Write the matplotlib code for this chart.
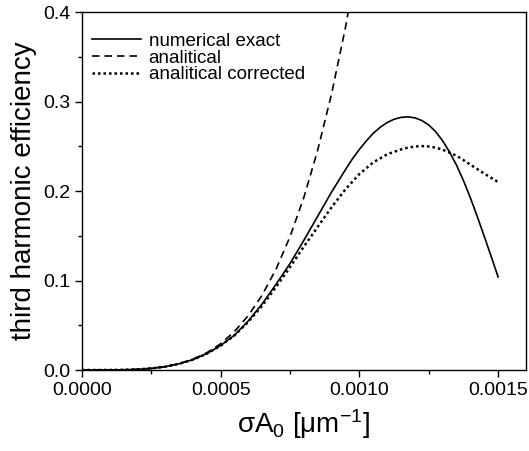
import matplotlib
matplotlib.use('Agg')
import matplotlib.pyplot as plt
from matplotlib.ticker import MultipleLocator, FormatStrFormatter

plt.rcParams['font.family'] = ['Liberation Sans', 'DejaVu Sans']
plt.rcParams['mathtext.fontset'] = 'custom'
plt.rcParams['mathtext.rm'] = 'Liberation Sans'
plt.rcParams['mathtext.it'] = 'Liberation Sans'
plt.rcParams['mathtext.default'] = 'regular'

# sigma*A0 values
x_num = [0.0, 0.00005, 0.0001, 0.00015, 0.0002, 0.00025, 0.0003, 0.00035,
         0.0004, 0.00045, 0.0005, 0.00055, 0.0006, 0.00065, 0.0007, 0.00075,
         0.0008, 0.00085, 0.0009, 0.00095, 0.000975, 0.0010, 0.001025,
         0.00105, 0.001075, 0.0011, 0.001125, 0.00115, 0.001175, 0.0012,
         0.001225, 0.00125, 0.001275, 0.0013, 0.001325, 0.00135, 0.001375,
         0.0014, 0.001425, 0.00145, 0.001475, 0.0015]
numerical = [0.0, 0.0, 0.00005, 0.00024, 0.0007, 0.0018, 0.0037, 0.0069,
             0.0116, 0.0183, 0.0274, 0.039, 0.055, 0.074, 0.096, 0.119,
             0.145, 0.172, 0.199, 0.224, 0.236, 0.2465, 0.256,
             0.2645, 0.2712, 0.2765, 0.2802, 0.2823, 0.2829, 0.2818,
             0.2788, 0.2738, 0.2663, 0.2562, 0.2436, 0.229, 0.2118,
             0.1925, 0.1715, 0.1495, 0.127, 0.104]

x_cor = [0.0, 0.00005, 0.0001, 0.00015, 0.0002, 0.00025, 0.0003, 0.00035,
         0.0004, 0.00045, 0.0005, 0.00055, 0.0006, 0.00065, 0.0007, 0.00075,
         0.0008, 0.00085, 0.0009, 0.00095, 0.0010, 0.00105, 0.0011, 0.00115,
         0.001175, 0.0012, 0.001225, 0.00125, 0.001275, 0.0013, 0.00135,
         0.0014, 0.00145, 0.0015]
corrected = [0.0, 0.0, 0.00005, 0.00024, 0.0007, 0.0018, 0.0037, 0.0069,
             0.0116, 0.0183, 0.0273, 0.0388, 0.054, 0.072, 0.093, 0.115,
             0.138, 0.160, 0.182, 0.202, 0.219, 0.232, 0.241, 0.2465,
             0.2485, 0.2497, 0.2502, 0.2498, 0.2485, 0.2462, 0.2395,
             0.2295, 0.2195, 0.210]

x_anal = [0.0, 0.00005, 0.0001, 0.00015, 0.0002, 0.00025, 0.0003, 0.00035,
          0.0004, 0.00045, 0.0005, 0.00055, 0.0006, 0.00065, 0.0007, 0.00075,
          0.0008, 0.00085, 0.0009, 0.00095, 0.0010]
analytical = [0.0, 0.0, 0.00005, 0.00024, 0.00075, 0.0018, 0.0038, 0.0071,
              0.0121, 0.0193, 0.0294, 0.0431, 0.061, 0.084, 0.113, 0.149,
              0.193, 0.246, 0.309, 0.383, 0.471]

fig = plt.figure(figsize=(5.29, 4.51), dpi=100)
ax = fig.add_axes([0.155, 0.1796, 0.839, 0.7937])

ax.plot(x_num, numerical, color='black', lw=1.2, label='numerical exact')
ax.plot(x_anal, analytical, color='black', lw=1.2, linestyle=(0, (4.5, 3)),
        label='analitical')
ax.plot(x_cor, corrected, color='black', lw=1.8, linestyle=(0, (1, 1.2)),
        label='analitical corrected')

ax.set_xlim(0, 0.0016)
ax.set_ylim(0, 0.4)
ax.xaxis.set_major_locator(MultipleLocator(0.0005))
ax.xaxis.set_minor_locator(MultipleLocator(0.00025))
ax.yaxis.set_major_locator(MultipleLocator(0.1))
ax.yaxis.set_minor_locator(MultipleLocator(0.05))
ax.xaxis.set_major_formatter(FormatStrFormatter('%.4f'))
ax.yaxis.set_major_formatter(FormatStrFormatter('%.1f'))
ax.tick_params(which='both', direction='out', top=False, right=False,
               labelsize=14)
ax.tick_params(which='major', length=5, width=1)
ax.tick_params(which='minor', length=3, width=1)
for s in ax.spines.values():
    s.set_linewidth(1)

ax.set_xlabel(r'$\sigma A_0\ [\mu m^{-1}]$', fontsize=20, labelpad=6)
ax.set_ylabel('third harmonic efficiency', fontsize=20, labelpad=4)

ax.legend(loc='upper left', bbox_to_anchor=(0.0, 0.971), frameon=False,
          fontsize=13.5, handlelength=2.6, handletextpad=0.4,
          labelspacing=-0.02, borderaxespad=0.0, borderpad=0.55)

fig.savefig('out.png', dpi=100)
